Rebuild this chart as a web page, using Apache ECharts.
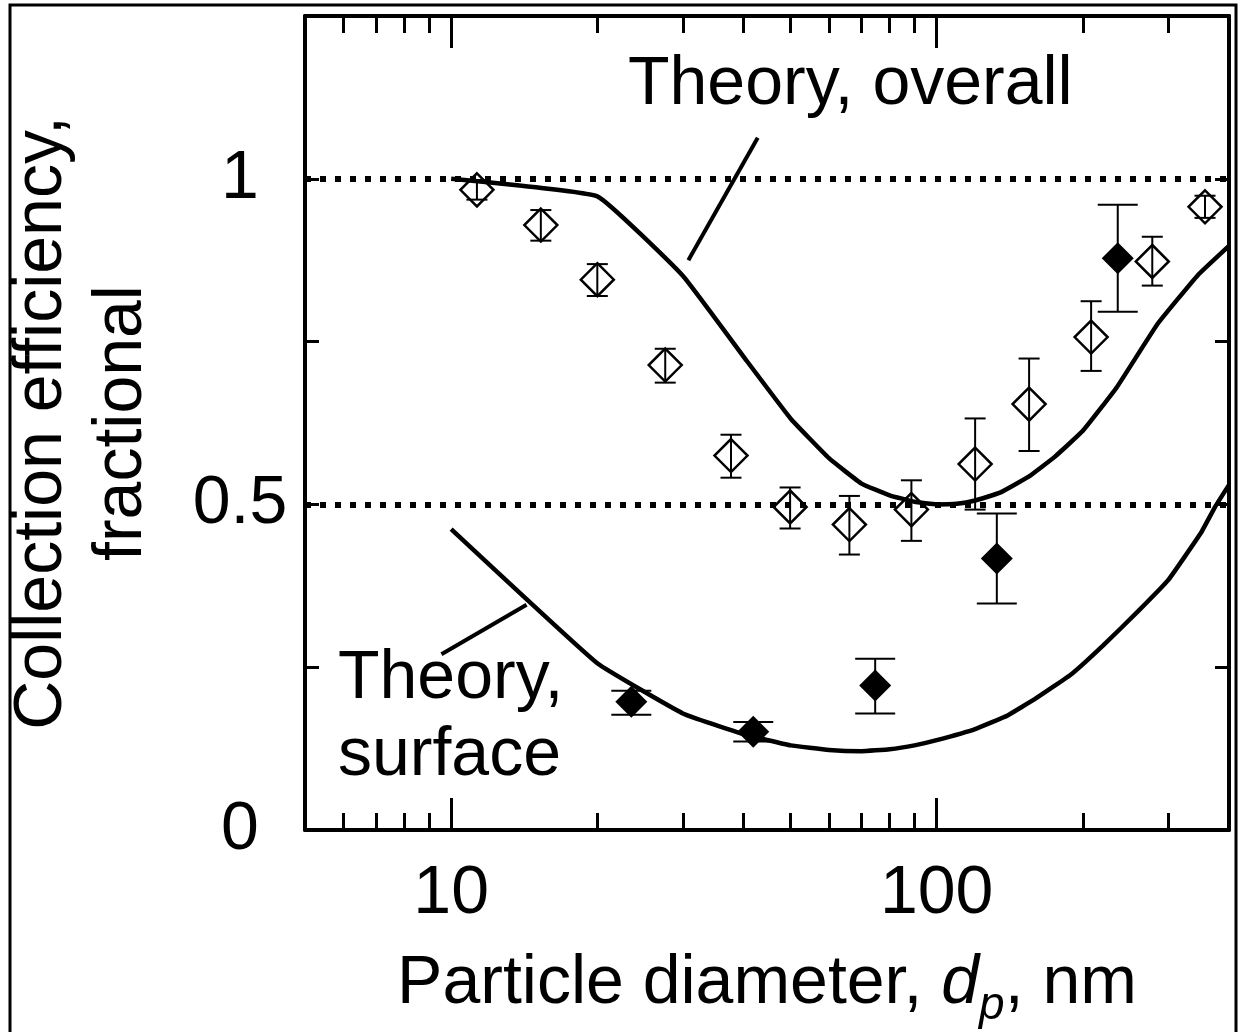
<!DOCTYPE html>
<html>
<head>
<meta charset="utf-8">
<style>
html, body { margin: 0; padding: 0; background: #fff; }
#main { width: 1243px; height: 1032px; }
</style>
<script src="https://cdn.jsdelivr.net/npm/echarts@6.0.0/dist/echarts.min.js"></script>
</head>
<body>
<div id="main"></div>
<script>
// curves and points: particle diameter (nm) -> collection efficiency
var overallD   = [10, 20, 30, 40, 50, 60, 70, 80, 90, 100, 110, 120, 135, 155, 175, 200, 235, 285, 345, 400];
var overallEff = [1.0, 0.973, 0.851, 0.727, 0.632, 0.571, 0.532, 0.514, 0.504, 0.500, 0.501, 0.506, 0.518, 0.543, 0.573, 0.613, 0.680, 0.777, 0.852, 0.897];
var surfaceD   = [10, 20, 30, 40, 50, 60, 70, 80, 90, 100, 120, 140, 160, 190, 220, 260, 300, 350, 375, 400];
var surfaceEff = [0.462, 0.256, 0.179, 0.147, 0.130, 0.123, 0.121, 0.124, 0.130, 0.138, 0.155, 0.176, 0.202, 0.240, 0.283, 0.336, 0.384, 0.456, 0.497, 0.530];

var openD    = [11.3, 15.3, 20.0, 27.6, 37.7, 49.9, 66.1, 88.7, 120, 155, 208, 278, 357];
var openEff  = [0.983, 0.929, 0.845, 0.714, 0.575, 0.496, 0.469, 0.492, 0.562, 0.654, 0.757, 0.873, 0.957];
var openLow  = [0.968, 0.905, 0.820, 0.687, 0.541, 0.463, 0.423, 0.444, 0.492, 0.582, 0.705, 0.836, 0.940];
var openHigh = [0.998, 0.952, 0.869, 0.739, 0.607, 0.526, 0.513, 0.537, 0.632, 0.724, 0.812, 0.911, 0.974];

var filledD    = [23.5, 41.9, 74.7, 133, 236];
var filledEff  = [0.197, 0.151, 0.222, 0.417, 0.878];
var filledLow  = [0.177, 0.136, 0.179, 0.348, 0.796];
var filledHigh = [0.214, 0.166, 0.263, 0.486, 0.960];

var refLines   = [0.5, 1];
var majorTicks = [10, 100];
var minorTicks = [6, 7, 8, 9, 20, 30, 40, 50, 60, 70, 80, 90, 200, 300];
var yLabels    = [0, 0.5, 1];

// leader lines from the text labels to the curves
var overallLeader = [[30.8, 0.875], [42.8, 1.063]];
var surfaceLeader = [[9.55, 0.270], [14.3, 0.346]];

var FONT = "'Liberation Sans', Arial, sans-serif";

function zip(a, b, c) {
    return a.map(function (v, i) { return c ? [v, b[i], c[i]] : [v, b[i]]; });
}

function errorBar(cap) {
    return function (params, api) {
        var x = api.value(0),
            lo = api.coord([x, api.value(1)]),
            hi = api.coord([x, api.value(2)]),
            st = { stroke: '#000', lineWidth: 2 };
        return {
            type: 'group',
            children: [
                { type: 'line', shape: { x1: lo[0], y1: lo[1], x2: hi[0], y2: hi[1] }, style: st },
                { type: 'line', shape: { x1: lo[0] - cap / 2, y1: lo[1], x2: lo[0] + cap / 2, y2: lo[1] }, style: st },
                { type: 'line', shape: { x1: hi[0] - cap / 2, y1: hi[1], x2: hi[0] + cap / 2, y2: hi[1] }, style: st }
            ]
        };
    };
}

function xAxis(pos, ticks, len, withLine, withLabel, withName) {
    var ax = {
        type: 'log', logBase: 10, min: 5, max: 400, position: pos,
        axisLine: { show: withLine, onZero: false, lineStyle: { color: '#000', width: 4 } },
        axisTick: { show: true, inside: true, length: len, customValues: ticks, lineStyle: { color: '#000', width: 3 } },
        axisLabel: { show: withLabel, customValues: majorTicks, fontSize: 68, color: '#000', fontFamily: FONT, margin: 30 },
        splitLine: { show: false },
        minorTick: { show: false }
    };
    if (withName) {
        ax.name = '{n|Particle diameter, }{i|d}{s|p}{n|, nm}';
        ax.nameLocation = 'middle';
        ax.nameGap = 109;
        ax.nameTextStyle = {
            color: '#000', fontFamily: FONT, fontSize: 68,
            rich: {
                n: { fontSize: 68, lineHeight: 90, fontFamily: FONT, color: '#000' },
                i: { fontSize: 68, lineHeight: 90, fontFamily: FONT, fontStyle: 'italic', color: '#000' },
                s: { fontSize: 46, lineHeight: 46, fontFamily: FONT, fontStyle: 'italic', verticalAlign: 'bottom', color: '#000' }
            }
        };
    }
    return ax;
}

function yAxis(pos, withLabel) {
    var ax = {
        type: 'value', min: 0, max: 1.25, interval: 0.25, position: pos,
        axisLine: { show: true, onZero: false, lineStyle: { color: '#000', width: 4 } },
        axisTick: { show: true, inside: true, length: 14, lineStyle: { color: '#000', width: 3 } },
        axisLabel: { show: withLabel, customValues: yLabels, fontSize: 68, color: '#000', fontFamily: FONT, align: 'center', margin: 65 },
        splitLine: { show: false }
    };
    if (withLabel) {
        ax.name = 'Collection efficiency,\nfractional';
        ax.nameLocation = 'middle';
        ax.nameRotate = 90;
        ax.nameGap = 143;
        ax.nameTextStyle = { color: '#000', fontFamily: FONT, fontSize: 68, lineHeight: 80 };
    }
    return ax;
}

var myChart = echarts.init(document.getElementById('main'));
var curveStyle = { color: '#000', width: 4.5 };

myChart.setOption({
    animation: false,
    backgroundColor: '#fff',
    grid: { left: 305, right: 14, top: 16, bottom: 202, containLabel: false, outerBoundsMode: 'none' },
    xAxis: [
        xAxis('bottom', majorTicks, 32, true, true, true),
        xAxis('bottom', minorTicks, 17, false, false, false),
        xAxis('top', majorTicks, 32, true, false, false),
        xAxis('top', minorTicks, 17, false, false, false)
    ],
    yAxis: [yAxis('left', true), yAxis('right', false)],
    graphic: [
        { type: 'rect', silent: true, shape: { x: 10, y: 5, width: 1226, height: 1040 },
          style: { fill: 'none', stroke: '#000', lineWidth: 3 } },
        { type: 'text', silent: true, style: { x: 628, y: 85, text: 'Theory, overall', font: '68px ' + FONT, fill: '#000', textAlign: 'left', textVerticalAlign: 'middle' } },
        { type: 'text', silent: true, style: { x: 338, y: 679, text: 'Theory,', font: '68px ' + FONT, fill: '#000', textAlign: 'left', textVerticalAlign: 'middle' } },
        { type: 'text', silent: true, style: { x: 338, y: 756, text: 'surface', font: '68px ' + FONT, fill: '#000', textAlign: 'left', textVerticalAlign: 'middle' } }
    ],
    series: [
        {
            name: 'Theory, overall', type: 'line', data: zip(overallD, overallEff),
            showSymbol: false, smooth: 0.1, silent: true, lineStyle: curveStyle,
            markLine: {
                silent: true, symbol: ['none', 'none'], label: { show: false },
                lineStyle: { color: '#000', type: [6, 9], width: 6 },
                data: refLines.map(function (v) { return { yAxis: v }; })
            }
        },
        { name: 'Theory, surface', type: 'line', data: zip(surfaceD, surfaceEff), showSymbol: false, smooth: 0.1, silent: true, lineStyle: curveStyle },
        { name: 'leader overall', type: 'line', data: overallLeader, showSymbol: false, silent: true, lineStyle: { color: '#000', width: 4 } },
        { name: 'leader surface', type: 'line', data: surfaceLeader, showSymbol: false, silent: true, lineStyle: { color: '#000', width: 4 } },
        {
            name: 'overall err', type: 'custom', renderItem: errorBar(21), silent: true,
            data: zip(openD, openLow, openHigh), encode: { x: 0, y: [1, 2] }, z: 3
        },
        {
            name: 'surface err', type: 'custom', renderItem: errorBar(40), silent: true,
            data: zip(filledD, filledLow, filledHigh), encode: { x: 0, y: [1, 2] }, z: 3
        },
        {
            name: 'Measured, overall', type: 'scatter', symbol: 'diamond', symbolSize: 33, silent: true,
            data: zip(openD, openEff), z: 4,
            itemStyle: { color: 'rgba(255,255,255,0)', borderColor: '#000', borderWidth: 2.5, opacity: 1 }
        },
        {
            name: 'Measured, surface', type: 'scatter', symbol: 'diamond', symbolSize: 32, silent: true,
            data: zip(filledD, filledEff), z: 4,
            itemStyle: { color: '#000', opacity: 1 }
        }
    ]
});
</script>
</body>
</html>
